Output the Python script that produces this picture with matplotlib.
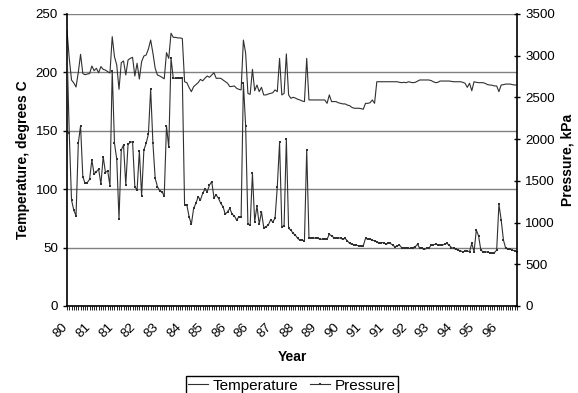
import numpy as np
import matplotlib
matplotlib.use("Agg")
import matplotlib.pyplot as plt
import matplotlib.transforms as mtransforms
from matplotlib.lines import Line2D
from matplotlib.ticker import MultipleLocator, FixedLocator

plt.rcParams["font.family"] = ["Liberation Sans", "DejaVu Sans"]

# -----------------------
# DATA
# -----------------------
year_labels = ["80", "81", "81", "82", "83", "84", "85", "86", "86", "87",
               "88", "89", "90", "91", "91", "92", "93", "94", "95", "96"]

temperature = [
    236, 212, 193.5, 191, 187.5, 200, 215.5, 199, 198, 198.6,
    199, 205.5, 201.5, 203.5, 199.7, 205, 202.6, 202, 200.6, 199.5,
    230.6, 213.4, 206.3, 185.5, 208.3, 209.8, 197.8, 210.6, 212, 212.9,
    196.9, 207.8, 194.3, 209.2, 214, 214.9, 220, 227.7, 216.4, 203.5,
    197.8, 196.9, 195.8, 194.5, 216.9, 212, 233.5, 230, 230, 229.5,
    229.5, 229, 192, 191.2, 187, 183.5, 187.8, 189.5, 191.2, 194,
    192.8, 195, 196.9, 195.8, 197.8, 199.7, 194.9, 195, 194.9, 193.5,
    192, 190.7, 187.8, 188, 188.4, 186.4, 185.5, 185, 227.7, 216.4,
    182, 181.2, 202.6, 184.3, 189.2, 183.5, 187.2, 180.7, 180.7, 181.5,
    182, 182.6, 185, 183.5, 212, 180.7, 182, 215.8, 180.7, 177.8,
    178.7, 178, 177, 176.4, 175.5, 175, 212, 176.4, 176.4, 176.4,
    176.4, 176.4, 176.4, 176.4, 176.4, 173.5, 180.7, 175, 175, 175,
    174, 173.5, 173, 173, 172, 171.5, 170, 169.3, 169.3, 169.3,
    169, 168.4, 173.5, 173.5, 174, 176.4, 173.5, 192, 192, 192,
    192, 192, 192, 192, 192, 192, 192, 191.5, 191.2, 191.5,
    191.2, 192, 191.5, 191.2, 191.5, 192.5, 193.5, 193.5, 193.5, 193.5,
    193.5, 193, 192, 191.2, 191.5, 192.6, 192.6, 192.6, 192.6, 192.6,
    192.3, 192, 192, 192, 192, 191.5, 190.7, 187.2, 190.7, 184.3,
    192, 191.5, 191.2, 191.2, 191.2, 190.5, 189.5, 189.2, 189, 188.4,
    188.4, 183.5, 189.2, 189.5, 190, 190, 190, 189.5, 189.2, 189.2,
]

pressure = [
    3080, 2070, 1270, 1150, 1080, 1950, 2160, 1550, 1470, 1480,
    1520, 1750, 1580, 1610, 1640, 1460, 1790, 1600, 1620, 1440,
    2820, 1950, 1760, 1040, 1870, 1930, 1450, 1940, 1960, 1970,
    1430, 1390, 1860, 1320, 1870, 1950, 2060, 2600, 1950, 1530,
    1430, 1380, 1370, 1320, 2160, 1900, 2970, 2730, 2730, 2730,
    2730, 2730, 1210, 1210, 1070, 980, 1170, 1230, 1310, 1270,
    1350, 1400, 1370, 1450, 1490, 1300, 1330, 1290, 1230, 1190,
    1100, 1130, 1170, 1100, 1080, 1030, 1070, 1070, 2670, 2160,
    980, 970, 1590, 1010, 1200, 980, 1130, 940, 950, 970,
    1030, 1010, 1050, 1430, 1960, 950, 960, 2000, 930, 910,
    870, 850, 810, 790, 790, 780, 1870, 820, 810, 810,
    820, 810, 800, 800, 800, 800, 860, 840, 820, 820,
    820, 810, 800, 810, 780, 750, 740, 730, 730, 720,
    720, 720, 810, 800, 800, 790, 780, 770, 750, 760,
    760, 740, 750, 750, 730, 710, 720, 730, 700, 700,
    690, 690, 690, 700, 710, 740, 690, 690, 680, 690,
    690, 730, 735, 740, 735, 730, 730, 740, 750, 730,
    700, 690, 680, 670, 660, 650, 655, 660, 650, 750,
    650, 910, 840, 670, 650, 650, 645, 640, 640, 640,
    670, 1220, 1030, 790, 690, 685, 680, 670, 660, 650,
]

x = np.arange(len(temperature))

# -----------------------
# PLOT
# -----------------------
fig = plt.figure(figsize=(5.78, 3.93), dpi=100)
ax = fig.add_axes([0.1159, 0.2214, 0.7786, 0.7430])
ax2 = ax.twinx()

ax.plot(x, temperature, color="#303030", lw=0.8)
ax2.plot(x, pressure, color="#303030", lw=0.8, marker="s", ms=2.1, mew=0)

ax.set_xlim(0, len(x) - 1)
ax.set_ylim(0, 250)
ax2.set_ylim(0, 3500)

ax.yaxis.set_major_locator(MultipleLocator(50))
ax2.yaxis.set_major_locator(MultipleLocator(500))
ax.grid(axis="y", color="#808080", lw=1)
ax.set_axisbelow(True)

ax.xaxis.set_major_locator(FixedLocator(np.arange(0, len(x), 10)))
ax.xaxis.set_minor_locator(MultipleLocator(1))
ax.set_xticklabels(year_labels, rotation=45, ha="right", va="top",
                   rotation_mode="anchor")

for a in (ax, ax2):
    a.spines["top"].set_visible(False)
ax.spines["right"].set_visible(False)
ax2.spines["left"].set_visible(False)
ax2.spines["bottom"].set_visible(False)
ax2.spines["right"].set_linewidth(1.2)
ax.spines["left"].set_linewidth(1.2)
ax.spines["bottom"].set_linewidth(1.2)

ax.tick_params(axis="y", labelsize=9.6, length=3, width=1)
ax2.tick_params(axis="y", labelsize=9.6, length=5, width=1, direction="inout")
ax.tick_params(axis="x", which="both", length=3, width=0.6, labelsize=9.6, pad=8)

ax.set_xlabel("Year", fontsize=10, fontweight="bold", labelpad=7)
ax.set_ylabel("Temperature, degrees C", fontsize=10, fontweight="bold")
ax2.set_ylabel("Pressure, kPa", fontsize=10, fontweight="bold")

handles = [
    Line2D([], [], color="#303030", lw=0.8),
    Line2D([], [], color="#303030", lw=0.8, marker="s", ms=2.1, mew=0),
]
fig.legend(handles, ["Temperature", "Pressure"], ncol=2, fontsize=11,
           loc="lower center", bbox_to_anchor=(0.505, -0.005),
           frameon=True, fancybox=False, edgecolor="black", framealpha=1,
           handlelength=1.3, handletextpad=0.3, columnspacing=0.8,
           borderpad=0.15, borderaxespad=0)

# nudge rotated year labels a little to the left, like the original
fig.canvas.draw()
shift = mtransforms.ScaledTranslation(-5 / 100, 0, fig.dpi_scale_trans)
for lbl in ax.get_xticklabels():
    lbl.set_transform(lbl.get_transform() + shift)

fig.savefig("out.png", dpi=100)
